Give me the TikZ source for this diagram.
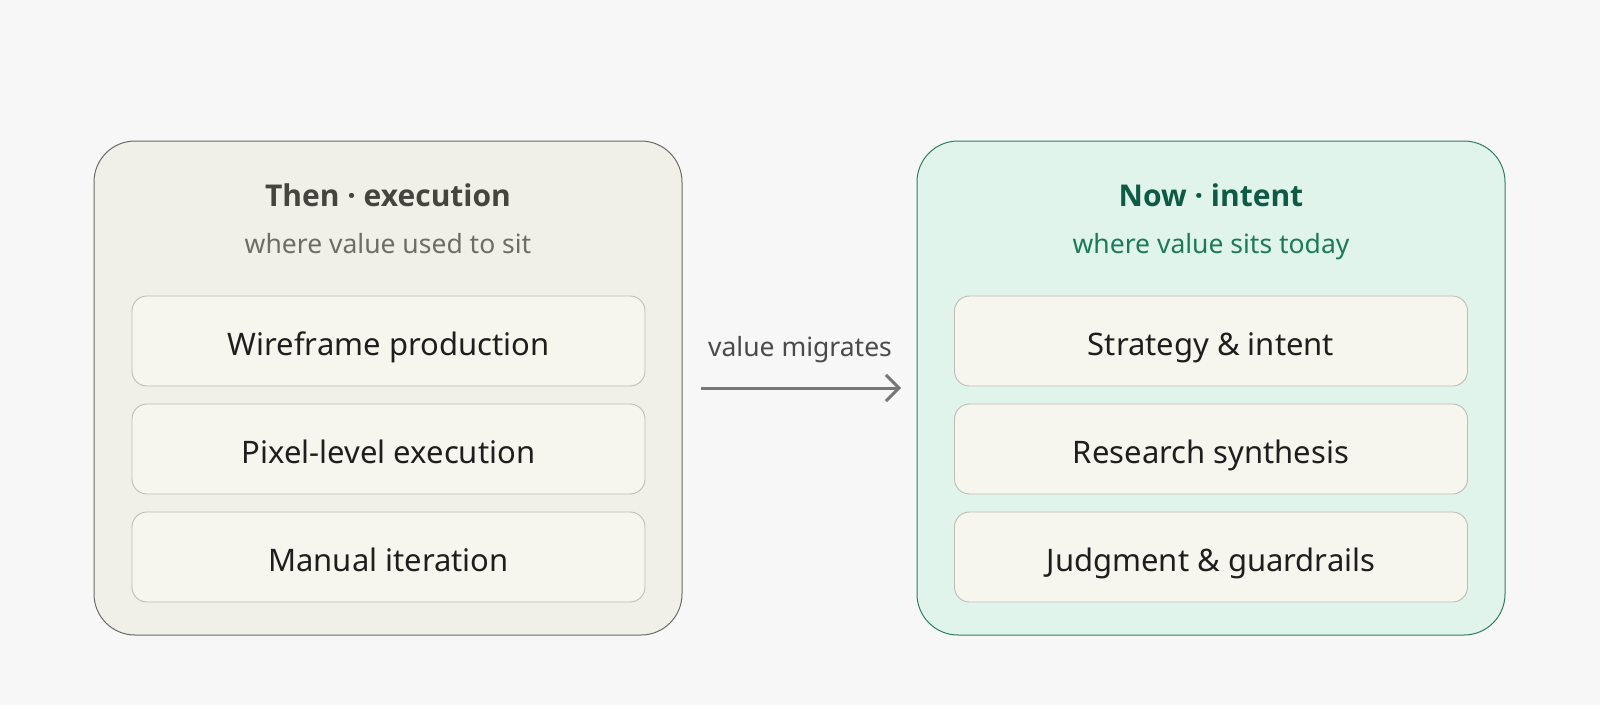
\documentclass[tikz,border=0pt]{standalone}
\usepackage{fontspec}
\setmainfont{Noto Sans}
\newfontfamily\titlefont{Open Sans}
\usetikzlibrary{arrows.meta}
\definecolor{bg}{HTML}{F7F7F7}
\definecolor{leftfill}{HTML}{F0EFE8}
\definecolor{leftdraw}{HTML}{6A6A66}
\definecolor{itemfill}{HTML}{F6F5EE}
\definecolor{itemdraw}{HTML}{BDBDB5}
\definecolor{rightfill}{HTML}{E1F4EC}
\definecolor{rightdraw}{HTML}{2F7D60}
\definecolor{lefttitle}{HTML}{45443F}
\definecolor{leftsub}{HTML}{6D6C67}
\definecolor{righttitle}{HTML}{0E5A44}
\definecolor{rightsub}{HTML}{1C7A5A}
\definecolor{arrowc}{HTML}{777777}
\definecolor{labelc}{HTML}{4A4A4A}
\definecolor{itemtext}{HTML}{1E1E1E}
\tikzset{
  x=1pt,y=-1pt,
  panel/.style={rounded corners=41pt, line width=1pt},
  itembox/.style={draw=itemdraw, fill=itemfill, rounded corners=15pt, line width=0.9pt,
    minimum width=513pt, minimum height=90pt, inner sep=0pt,
    text height=35pt, text depth=6.2pt,
    font=\fontsize{31}{36}\selectfont, text=itemtext},
  titletext/.style={anchor=base, font=\titlefont\fontsize{30}{36}\selectfont\bfseries},
  subtext/.style={anchor=base, font=\fontsize{26.5}{32}\selectfont},
  conn/.style={draw=arrowc, line width=3pt, -{Straight Barb[length=13pt,width=26pt,line width=3pt]}}
}
\begin{document}
\begin{tikzpicture}
\useasboundingbox[fill=bg] (0,0) rectangle (1600,705);
% left panel
\draw[panel, fill=leftfill, draw=leftdraw] (94,141) rectangle (682,635);
\node[titletext, text=lefttitle] (lt) at (388,206) {Then · execution};
\node[subtext, text=leftsub] (ls) at (388,253) {where value used to sit};
\node[itembox] (l1) at (388.5,341) {Wireframe production};
\node[itembox] (l2) at (388.5,449) {Pixel-level execution};
\node[itembox] (l3) at (388.5,557) {Manual iteration};
% right panel
\draw[panel, fill=rightfill, draw=rightdraw] (917,141) rectangle (1505,635);
\node[titletext, text=righttitle] (rt) at (1211,206) {Now · intent};
\node[subtext, text=rightsub] (rs) at (1211,253) {where value sits today};
\node[itembox] (r1) at (1211,341) {Strategy \& intent};
\node[itembox] (r2) at (1211,449) {Research synthesis};
\node[itembox] (r3) at (1211,557) {Judgment \& guardrails};
% connector
\coordinate (a1) at (701,388);
\coordinate (a2) at (901,388);
\draw[conn] (a1) -- (a2);
\node[subtext, text=labelc] (ml) at (800,356) {value migrates};
\end{tikzpicture}
\end{document}
